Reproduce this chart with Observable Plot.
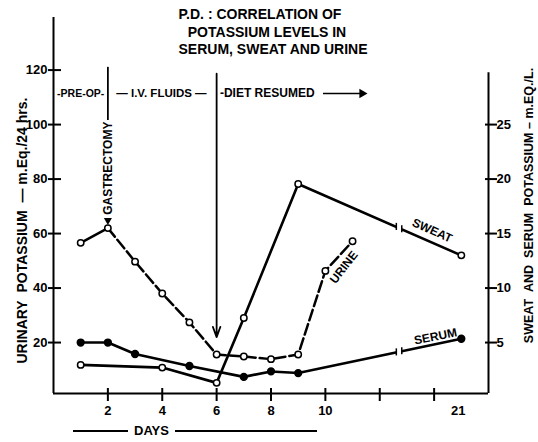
<!DOCTYPE html>
<html><head><meta charset="utf-8">
<script src="https://cdn.jsdelivr.net/npm/d3@7"></script>
<script src="https://cdn.jsdelivr.net/npm/@observablehq/plot@0.6"></script>
<style>
body{margin:0;background:#fff;font-family:"Liberation Sans",Arial,sans-serif;color:#000}
#wrap{position:relative;width:538px;height:442px;overflow:hidden}
.title{position:absolute;font-size:14px;font-weight:bold;white-space:nowrap;transform:translateX(-50%);line-height:17px}
#days{position:absolute;left:73px;top:423px;width:244px;display:flex;align-items:center;font-weight:bold;font-size:13px;line-height:16px}
#days .ln{flex:none;height:1.6px;background:#000}
#days .tx{flex:none;width:47px;text-align:center}
</style></head><body>
<div id="wrap">
<div id="chart"></div>
<div class="title" style="left:260px;top:6px">P.D. : CORRELATION OF</div>
<div class="title" style="left:267px;top:24px">POTASSIUM LEVELS IN</div>
<div class="title" style="left:273px;top:41px">SERUM, SWEAT AND URINE</div>
<div id="days"><div class="ln" style="width:55px"></div><div class="tx">DAYS</div><div class="ln" style="width:142px"></div></div>
</div>
<script>
// ---- data ----
const urineDay = [1, 2, 3, 4, 5, 6, 7, 8, 9, 10, 11];
const urineVal = [56.6, 62, 49.7, 38, 27.4, 15.6, 14.9, 13.9, 15.6, 46.3, 57.2]; // m.Eq./24 hrs
const sweatDay = [1, 4, 6, 7, 9, 21];
const sweatVal = [2.95, 2.7, 1.3, 7.25, 19.55, 13.0]; // m.Eq./L
const serumDay = [1, 2, 3, 5, 7, 8, 9, 21];
const serumVal = [5.0, 5.0, 3.95, 2.85, 1.85, 2.35, 2.2, 5.35]; // m.Eq./L
const dayTicks = [2, 4, 6, 8, 10, 12, 14];
const dayTickLabels = ["2", "4", "6", "8", "10", "", ""];
const lateDay = 21;
const leftTicks = [20, 40, 60, 80, 100, 120];
const rightTicks = [5, 10, 15, 20, 25];
const phaseLabels = ["-PRE-OP-", "— I.V. FLUIDS —", "-DIET RESUMED"];
const seriesLabels = ["URINE", "SWEAT", "SERUM"];
const eventLabel = "GASTRECTOMY";

// ---- layout ----
const K = 4;               // right axis unit -> left axis unit
const lateDayPos = 15;     // position of day 21 on the broken time axis
const yMin = 1.3, yMax = 139.3, rightTop = 119;
const breakAt = 12.71, breakHalf = 0.1;
const pos = d => d === lateDay ? lateDayPos : d;

const urine = urineDay.map((d, i) => ({x: pos(d), y: urineVal[i]}));
const sweat = sweatDay.map((d, i) => ({x: pos(d), y: sweatVal[i] * K}));
const serum = serumDay.map((d, i) => ({x: pos(d), y: serumVal[i] * K}));

function interp(s, x) {
  for (let i = 1; i < s.length; i++) {
    if (x <= s[i].x) { const a = s[i-1], b = s[i]; return a.y + (b.y - a.y) * (x - a.x) / (b.x - a.x); }
  }
  return s[s.length-1].y;
}
const gaps = [sweat, serum].map(s => [
  {x: breakAt - breakHalf, y: interp(s, breakAt - breakHalf)},
  {x: breakAt + breakHalf, y: interp(s, breakAt + breakHalf)}
]);
const gapTicks = gaps.flat();

const labelPos = [
  {t: seriesLabels[0], x: 10.68, y: 47.6, r: -52},
  {t: seriesLabels[1], x: 13.93, y: 61.1, r: 24},
  {t: seriesLabels[2], x: 14.05, y: 22.2, r: -11}
];
const phaseY = 111.4;
const font = '"Liberation Sans", Arial, sans-serif';
const rightTicksL = rightTicks.map(v => v * K);
const one = [0];

const chart = Plot.plot({
  width: 538, height: 442,
  marginLeft: 53, marginRight: 50, marginTop: 17, marginBottom: 49,
  x: {domain: [0, 16], axis: null},
  y: {domain: [yMin, yMax], axis: null},
  style: {fontFamily: font, color: "#000", background: "transparent", overflow: "visible"},
  marks: [
    // axes frame
    Plot.ruleX([0], {strokeWidth: 2}),
    Plot.ruleY([yMin], {x1: 0, x2: 16, strokeWidth: 2}),
    Plot.ruleX([16], {y1: yMin, y2: rightTop, strokeWidth: 2}),
    Plot.axisY({anchor: "left", ticks: leftTicks, tickSize: 13, dx: 8, strokeWidth: 2, fill: "none", label: null}),
    Plot.axisY({anchor: "left", ticks: leftTicks, tickSize: 0, tickPadding: 6, fontSize: 13, fontWeight: "bold", label: null}),
    Plot.axisY({anchor: "right", ticks: rightTicksL, tickSize: 12, dx: -4, strokeWidth: 2, fill: "none", label: null}),
    Plot.axisY({anchor: "right", ticks: rightTicksL, tickFormat: d => d / K, tickSize: 0, tickPadding: 8, fontSize: 13, fontWeight: "bold", label: null}),
    Plot.axisX({anchor: "bottom", ticks: dayTicks, tickSize: 13, dy: -5, strokeWidth: 2, fill: "none", label: null}),
    Plot.axisX({anchor: "bottom", ticks: dayTicks.slice(0, 5), tickFormat: d => dayTickLabels[dayTicks.indexOf(d)], tickSize: 0, tickPadding: 12, fontSize: 13, fontWeight: "bold", label: null}),
    Plot.axisX({anchor: "bottom", ticks: [lateDayPos], tickFormat: () => String(lateDay), tickSize: 0, tickPadding: 12, dx: -3, fontSize: 13, fontWeight: "bold", label: null}),
    // axis titles
    Plot.text(one, {frameAnchor: "left", y: () => 61.1, dx: -31, rotate: -90, textAnchor: "middle", fontSize: 14, fontWeight: "bold",
      text: () => "URINARY\u00a0\u00a0POTASSIUM\u00a0\u00a0—\u00a0m.Eq./24\u00a0hrs."}),
    Plot.text(one, {frameAnchor: "right", y: () => 70.3, dx: 40, rotate: -90, textAnchor: "middle", fontSize: 12.5, fontWeight: "bold",
      text: () => "SWEAT\u00a0\u00a0AND\u00a0\u00a0SERUM\u00a0\u00a0POTASSIUM – m.EQ./L."}),
    // event annotations
    Plot.ruleX([2], {y1: 101.5, y2: 121, strokeWidth: 1.8}),
    Plot.text(one, {x: () => 2, y: () => 84.0, rotate: -90, fontSize: 12, fontWeight: "bold", text: () => eventLabel}),
    Plot.dot(one, {x: () => 2, y: () => 64.9, symbol: "triangle", r: 3, fill: "#000", rotate: 180}),
    Plot.arrow(one, {x1: () => 6, x2: () => 6, y1: () => 118.7, y2: () => 22, strokeWidth: 1.8, headLength: 9, headAngle: 40}),
    Plot.text(one, {x: () => 1.0, y: () => phaseY, text: () => phaseLabels[0], textAnchor: "middle", fontSize: 10.5, fontWeight: "bold"}),
    Plot.text(one, {x: () => 3.97, y: () => phaseY, text: () => phaseLabels[1], textAnchor: "middle", fontSize: 11.5, fontWeight: "bold"}),
    Plot.text(one, {x: () => 6.12, y: () => phaseY, text: () => phaseLabels[2], textAnchor: "start", fontSize: 12, fontWeight: "bold"}),
    Plot.ruleY([phaseY], {x1: 9.93, x2: 11.35, strokeWidth: 1.5}),
    Plot.dot(one, {x: () => 11.35, y: () => phaseY, symbol: "triangle", r: 3.5, fill: "#000", rotate: 90}),
    // series
    Plot.line(urine.slice(0, 2), {x: "x", y: "y", strokeWidth: 2.5}),
    Plot.line(urine.slice(1), {x: "x", y: "y", strokeWidth: 2.5, strokeDasharray: "11,4"}),
    Plot.line(sweat, {x: "x", y: "y", strokeWidth: 2.6}),
    Plot.line(serum, {x: "x", y: "y", strokeWidth: 2.6}),
    ...gaps.map(g => Plot.line(g, {x: "x", y: "y", stroke: "#fff", strokeWidth: 8, strokeLinecap: "butt"})),
    Plot.ruleX(gapTicks, {x: "x", y1: d => d.y - 1.3, y2: d => d.y + 1.3, strokeWidth: 1.5}),
    Plot.dot(urine, {x: "x", y: "y", r: 3.2, fill: "#fff", stroke: "#000", strokeWidth: 1.5}),
    Plot.dot(sweat, {x: "x", y: "y", r: 3.2, fill: "#fff", stroke: "#000", strokeWidth: 1.5}),
    Plot.dot(serum, {x: "x", y: "y", r: 3.4, fill: "#000", stroke: "#000"}),
    Plot.text(labelPos, {x: "x", y: "y", text: "t", rotate: "r", fontSize: 12, fontWeight: "bold"})
  ]
});
document.getElementById("chart").append(chart);
</script>
</body></html>
